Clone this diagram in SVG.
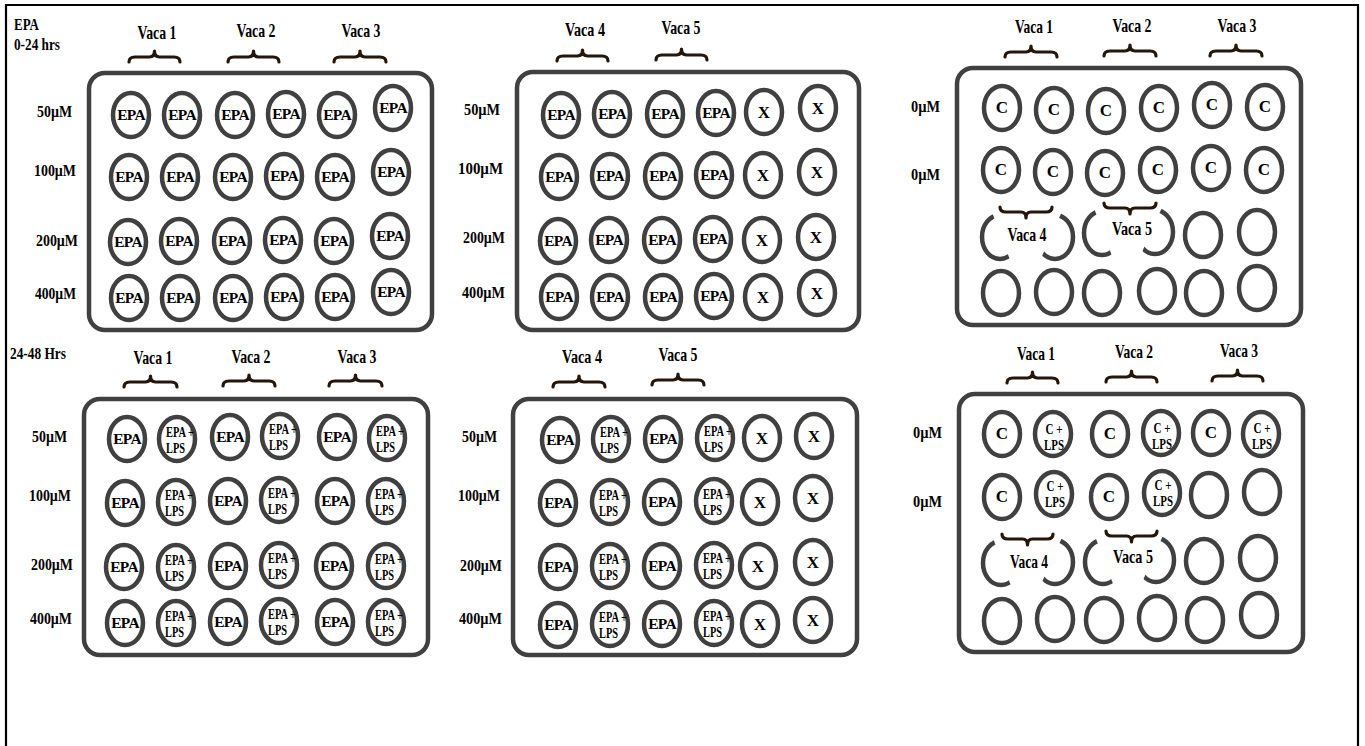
<svg xmlns="http://www.w3.org/2000/svg" width="1365" height="746" viewBox="0 0 1365 746">
<defs>
<style>
.frame{fill:none;stroke:#000;stroke-width:2.2}
.plate{fill:none;stroke:#404040;stroke-width:4.5}
.well{fill:none;stroke:#404040;stroke-width:4.5}
.brace{fill:none;stroke:#24160a;stroke-width:3.2;stroke-linecap:round;stroke-linejoin:round}
.cover{fill:#fff}
.t{font-family:"Liberation Serif","Times New Roman",serif;font-weight:bold;fill:#000}
.lbl{font-size:17.5px}
.vaca{font-size:19px;text-anchor:middle}
.epa{font-size:15.5px;text-anchor:middle;letter-spacing:-0.7px}
.x{font-size:17px;text-anchor:middle}
.c{font-size:17px;text-anchor:middle}
.s{font-size:15px}
.sc{font-size:15px;text-anchor:middle}
</style>
</defs>
<rect width="1365" height="746" fill="#fff"/>
<path class="frame" d="M6 746 V5 H1358 V746"/>
<g id="connectors"/>

<g id="headings">
<text class="t lbl" x="14" y="30" textLength="25" lengthAdjust="spacingAndGlyphs">EPA</text>
<text class="t lbl" x="14" y="50" textLength="46" lengthAdjust="spacingAndGlyphs">0-24 hrs</text>
<text class="t lbl" x="10" y="359" textLength="56" lengthAdjust="spacingAndGlyphs">24-48 Hrs</text>
</g>

<!-- Plate 1 -->
<g id="plate1">
<rect class="plate" x="89" y="73" width="343" height="257" rx="16"/>
<text class="t vaca" x="157" y="39" textLength="39" lengthAdjust="spacingAndGlyphs">Vaca 1</text>
<text class="t vaca" x="256" y="37" textLength="39" lengthAdjust="spacingAndGlyphs">Vaca 2</text>
<text class="t vaca" x="361" y="37" textLength="39" lengthAdjust="spacingAndGlyphs">Vaca 3</text>
<path class="brace" d="M129 62 Q129 57 135 57 H149.5 Q154.5 57 154.5 51 Q154.5 57 159.5 57 H174 Q180 57 180 62"/>
<path class="brace" d="M228 62 Q228 57 234 57 H248.5 Q253.5 57 253.5 51 Q253.5 57 258.5 57 H273 Q279 57 279 62"/>
<path class="brace" d="M334 62 Q334 57 340 57 H355 Q360 57 360 51 Q360 57 365 57 H380 Q386 57 386 62"/>
<text class="t lbl" x="37" y="117" textLength="35" lengthAdjust="spacingAndGlyphs">50µM</text>
<text class="t lbl" x="34" y="176" textLength="42" lengthAdjust="spacingAndGlyphs">100µM</text>
<text class="t lbl" x="36" y="246" textLength="42" lengthAdjust="spacingAndGlyphs">200µM</text>
<text class="t lbl" x="35" y="299" textLength="41" lengthAdjust="spacingAndGlyphs">400µM</text>
<g id="p1-r1c1"><ellipse class="well" cx="131" cy="115" rx="18" ry="22"/><text class="t epa" x="131" y="120">EPA</text></g>
<g id="p1-r1c2"><ellipse class="well" cx="182" cy="115" rx="18" ry="22"/><text class="t epa" x="182" y="120">EPA</text></g>
<g id="p1-r1c3"><ellipse class="well" cx="235" cy="115" rx="18" ry="22"/><text class="t epa" x="235" y="120">EPA</text></g>
<g id="p1-r1c4"><ellipse class="well" cx="286" cy="114" rx="18" ry="22"/><text class="t epa" x="286" y="119">EPA</text></g>
<g id="p1-r1c5"><ellipse class="well" cx="337" cy="115" rx="18" ry="22"/><text class="t epa" x="337" y="120">EPA</text></g>
<g id="p1-r1c6"><ellipse class="well" cx="393" cy="108" rx="18" ry="22"/><text class="t epa" x="393" y="113">EPA</text></g>
<g id="p1-r2c1"><ellipse class="well" cx="129" cy="177" rx="18" ry="22"/><text class="t epa" x="129" y="182">EPA</text></g>
<g id="p1-r2c2"><ellipse class="well" cx="180" cy="177" rx="18" ry="22"/><text class="t epa" x="180" y="182">EPA</text></g>
<g id="p1-r2c3"><ellipse class="well" cx="233" cy="177" rx="18" ry="22"/><text class="t epa" x="233" y="182">EPA</text></g>
<g id="p1-r2c4"><ellipse class="well" cx="284" cy="176" rx="18" ry="22"/><text class="t epa" x="284" y="181">EPA</text></g>
<g id="p1-r2c5"><ellipse class="well" cx="335" cy="177" rx="18" ry="22"/><text class="t epa" x="335" y="182">EPA</text></g>
<g id="p1-r2c6"><ellipse class="well" cx="391" cy="172" rx="18" ry="22"/><text class="t epa" x="391" y="177">EPA</text></g>
<g id="p1-r3c1"><ellipse class="well" cx="128" cy="242" rx="18" ry="22"/><text class="t epa" x="128" y="247">EPA</text></g>
<g id="p1-r3c2"><ellipse class="well" cx="179" cy="241" rx="18" ry="22"/><text class="t epa" x="179" y="246">EPA</text></g>
<g id="p1-r3c3"><ellipse class="well" cx="232" cy="241" rx="18" ry="22"/><text class="t epa" x="232" y="246">EPA</text></g>
<g id="p1-r3c4"><ellipse class="well" cx="283" cy="240" rx="18" ry="22"/><text class="t epa" x="283" y="245">EPA</text></g>
<g id="p1-r3c5"><ellipse class="well" cx="334" cy="241" rx="18" ry="22"/><text class="t epa" x="334" y="246">EPA</text></g>
<g id="p1-r3c6"><ellipse class="well" cx="390" cy="236" rx="18" ry="22"/><text class="t epa" x="390" y="241">EPA</text></g>
<g id="p1-r4c1"><ellipse class="well" cx="129" cy="298" rx="18" ry="22"/><text class="t epa" x="129" y="303">EPA</text></g>
<g id="p1-r4c2"><ellipse class="well" cx="180" cy="298" rx="18" ry="22"/><text class="t epa" x="180" y="303">EPA</text></g>
<g id="p1-r4c3"><ellipse class="well" cx="233" cy="298" rx="18" ry="22"/><text class="t epa" x="233" y="303">EPA</text></g>
<g id="p1-r4c4"><ellipse class="well" cx="284" cy="297" rx="18" ry="22"/><text class="t epa" x="284" y="302">EPA</text></g>
<g id="p1-r4c5"><ellipse class="well" cx="335" cy="297" rx="18" ry="22"/><text class="t epa" x="335" y="302">EPA</text></g>
<g id="p1-r4c6"><ellipse class="well" cx="391" cy="292" rx="18" ry="22"/><text class="t epa" x="391" y="297">EPA</text></g>
</g>

<!-- Plate 2 -->
<g id="plate2">
<rect class="plate" x="517" y="72" width="342" height="258" rx="16"/>
<text class="t vaca" x="585" y="36" textLength="40" lengthAdjust="spacingAndGlyphs">Vaca 4</text>
<text class="t vaca" x="681" y="34" textLength="39" lengthAdjust="spacingAndGlyphs">Vaca 5</text>
<path class="brace" d="M557 61 Q557 56 563 56 H577.5 Q582.5 56 582.5 50 Q582.5 56 587.5 56 H602 Q608 56 608 61"/>
<path class="brace" d="M656 60 Q656 55 662 55 H676.5 Q681.5 55 681.5 49 Q681.5 55 686.5 55 H701 Q707 55 707 60"/>
<text class="t lbl" x="464" y="115" textLength="36" lengthAdjust="spacingAndGlyphs">50µM</text>
<text class="t lbl" x="458" y="174" textLength="45" lengthAdjust="spacingAndGlyphs">100µM</text>
<text class="t lbl" x="463" y="243" textLength="42" lengthAdjust="spacingAndGlyphs">200µM</text>
<text class="t lbl" x="462" y="298" textLength="43" lengthAdjust="spacingAndGlyphs">400µM</text>
<g id="p2-r1c1"><ellipse class="well" cx="561" cy="115" rx="18" ry="22"/><text class="t epa" x="561" y="120">EPA</text></g>
<g id="p2-r1c2"><ellipse class="well" cx="612" cy="114" rx="18" ry="22"/><text class="t epa" x="612" y="119">EPA</text></g>
<g id="p2-r1c3"><ellipse class="well" cx="665" cy="114" rx="18" ry="22"/><text class="t epa" x="665" y="119">EPA</text></g>
<g id="p2-r1c4"><ellipse class="well" cx="716" cy="113" rx="18" ry="22"/><text class="t epa" x="716" y="118">EPA</text></g>
<g id="p2-r1c5"><ellipse class="well" cx="764" cy="112" rx="18" ry="22"/><text class="t x" x="764" y="118">X</text></g>
<g id="p2-r1c6"><ellipse class="well" cx="818" cy="108" rx="18" ry="22"/><text class="t x" x="818" y="114">X</text></g>
<g id="p2-r2c1"><ellipse class="well" cx="559" cy="177" rx="18" ry="22"/><text class="t epa" x="559" y="182">EPA</text></g>
<g id="p2-r2c2"><ellipse class="well" cx="610" cy="176" rx="18" ry="22"/><text class="t epa" x="610" y="181">EPA</text></g>
<g id="p2-r2c3"><ellipse class="well" cx="663" cy="176" rx="18" ry="22"/><text class="t epa" x="663" y="181">EPA</text></g>
<g id="p2-r2c4"><ellipse class="well" cx="714" cy="175" rx="18" ry="22"/><text class="t epa" x="714" y="180">EPA</text></g>
<g id="p2-r2c5"><ellipse class="well" cx="763" cy="175" rx="18" ry="22"/><text class="t x" x="763" y="181">X</text></g>
<g id="p2-r2c6"><ellipse class="well" cx="817" cy="172" rx="18" ry="22"/><text class="t x" x="817" y="178">X</text></g>
<g id="p2-r3c1"><ellipse class="well" cx="558" cy="241" rx="18" ry="22"/><text class="t epa" x="558" y="246">EPA</text></g>
<g id="p2-r3c2"><ellipse class="well" cx="609" cy="240" rx="18" ry="22"/><text class="t epa" x="609" y="245">EPA</text></g>
<g id="p2-r3c3"><ellipse class="well" cx="662" cy="240" rx="18" ry="22"/><text class="t epa" x="662" y="245">EPA</text></g>
<g id="p2-r3c4"><ellipse class="well" cx="713" cy="239" rx="18" ry="22"/><text class="t epa" x="713" y="244">EPA</text></g>
<g id="p2-r3c5"><ellipse class="well" cx="762" cy="240" rx="18" ry="22"/><text class="t x" x="762" y="246">X</text></g>
<g id="p2-r3c6"><ellipse class="well" cx="816" cy="237" rx="18" ry="22"/><text class="t x" x="816" y="243">X</text></g>
<g id="p2-r4c1"><ellipse class="well" cx="559" cy="297" rx="18" ry="22"/><text class="t epa" x="559" y="302">EPA</text></g>
<g id="p2-r4c2"><ellipse class="well" cx="610" cy="297" rx="18" ry="22"/><text class="t epa" x="610" y="302">EPA</text></g>
<g id="p2-r4c3"><ellipse class="well" cx="663" cy="297" rx="18" ry="22"/><text class="t epa" x="663" y="302">EPA</text></g>
<g id="p2-r4c4"><ellipse class="well" cx="714" cy="296" rx="18" ry="22"/><text class="t epa" x="714" y="301">EPA</text></g>
<g id="p2-r4c5"><ellipse class="well" cx="763" cy="297" rx="18" ry="22"/><text class="t x" x="763" y="303">X</text></g>
<g id="p2-r4c6"><ellipse class="well" cx="817" cy="293" rx="18" ry="22"/><text class="t x" x="817" y="299">X</text></g>
</g>

<!-- Plate 3 -->
<g id="plate3">
<rect class="plate" x="957" y="68" width="344" height="257" rx="16"/>
<text class="t vaca" x="1034" y="33" textLength="38" lengthAdjust="spacingAndGlyphs">Vaca 1</text>
<text class="t vaca" x="1132" y="32" textLength="39" lengthAdjust="spacingAndGlyphs">Vaca 2</text>
<text class="t vaca" x="1237" y="32" textLength="39" lengthAdjust="spacingAndGlyphs">Vaca 3</text>
<path class="brace" d="M1005 57 Q1005 52 1011 52 H1026 Q1031 52 1031 46 Q1031 52 1036 52 H1051 Q1057 52 1057 57"/>
<path class="brace" d="M1104 56 Q1104 51 1110 51 H1125 Q1130 51 1130 45 Q1130 51 1135 51 H1150 Q1156 51 1156 56"/>
<path class="brace" d="M1210 56 Q1210 51 1216 51 H1231 Q1236 51 1236 45 Q1236 51 1241 51 H1256 Q1262 51 1262 56"/>
<text class="t lbl" x="911" y="112" textLength="29" lengthAdjust="spacingAndGlyphs">0µM</text>
<text class="t lbl" x="911" y="180" textLength="29" lengthAdjust="spacingAndGlyphs">0µM</text>
<g id="p3-r1c1"><ellipse class="well" cx="1002" cy="108" rx="18" ry="22"/><text class="t c" x="1002" y="113">C</text></g>
<g id="p3-r1c2"><ellipse class="well" cx="1054" cy="110" rx="18" ry="22"/><text class="t c" x="1054" y="115">C</text></g>
<g id="p3-r1c3"><ellipse class="well" cx="1106" cy="111" rx="18" ry="22"/><text class="t c" x="1106" y="116">C</text></g>
<g id="p3-r1c4"><ellipse class="well" cx="1159" cy="108" rx="18" ry="22"/><text class="t c" x="1159" y="113">C</text></g>
<g id="p3-r1c5"><ellipse class="well" cx="1212" cy="105" rx="18" ry="22"/><text class="t c" x="1212" y="110">C</text></g>
<g id="p3-r1c6"><ellipse class="well" cx="1265" cy="107" rx="18" ry="22"/><text class="t c" x="1265" y="112">C</text></g>
<g id="p3-r2c1"><ellipse class="well" cx="1001" cy="170" rx="18" ry="22"/><text class="t c" x="1001" y="175">C</text></g>
<g id="p3-r2c2"><ellipse class="well" cx="1053" cy="172" rx="18" ry="22"/><text class="t c" x="1053" y="177">C</text></g>
<g id="p3-r2c3"><ellipse class="well" cx="1105" cy="173" rx="18" ry="22"/><text class="t c" x="1105" y="178">C</text></g>
<g id="p3-r2c4"><ellipse class="well" cx="1158" cy="170" rx="18" ry="22"/><text class="t c" x="1158" y="175">C</text></g>
<g id="p3-r2c5"><ellipse class="well" cx="1211" cy="168" rx="18" ry="22"/><text class="t c" x="1211" y="173">C</text></g>
<g id="p3-r2c6"><ellipse class="well" cx="1264" cy="170" rx="18" ry="22"/><text class="t c" x="1264" y="175">C</text></g>
<g id="p3-r3c1"><ellipse class="well" cx="1000" cy="237" rx="18" ry="22"/></g>
<g id="p3-r3c2"><ellipse class="well" cx="1055" cy="237" rx="18" ry="22"/></g>
<g id="p3-r3c3"><ellipse class="well" cx="1102" cy="233" rx="18" ry="22"/></g>
<g id="p3-r3c4"><ellipse class="well" cx="1155" cy="232" rx="18" ry="22"/></g>
<g id="p3-r3c5"><ellipse class="well" cx="1203" cy="235" rx="18" ry="22"/></g>
<g id="p3-r3c6"><ellipse class="well" cx="1257" cy="232" rx="18" ry="22"/></g>
<g id="p3-r4c1"><ellipse class="well" cx="1001" cy="293" rx="18" ry="22"/></g>
<g id="p3-r4c2"><ellipse class="well" cx="1054" cy="292" rx="18" ry="22"/></g>
<g id="p3-r4c3"><ellipse class="well" cx="1102" cy="293" rx="18" ry="22"/></g>
<g id="p3-r4c4"><ellipse class="well" cx="1157" cy="291" rx="18" ry="22"/></g>
<g id="p3-r4c5"><ellipse class="well" cx="1204" cy="293" rx="18" ry="22"/></g>
<g id="p3-r4c6"><ellipse class="well" cx="1257" cy="288" rx="18" ry="22"/></g>
<g id="p3-vaca4">
<polygon class="cover" points="990,207 1064,207 1038,265 1012,265"/>
<path class="brace" d="M1000 207 Q1000 212 1006 212 H1021 Q1026 212 1026 218 Q1026 212 1031 212 H1046 Q1052 212 1052 207"/>
<text class="t vaca" x="1027" y="241" textLength="39" lengthAdjust="spacingAndGlyphs">Vaca 4</text>
</g>
<g id="p3-vaca5">
<polygon class="cover" points="1092,203 1164,203 1138,261 1114,261"/>
<path class="brace" d="M1104 203 Q1104 208 1110 208 H1125 Q1130 208 1130 214 Q1130 208 1135 208 H1150 Q1156 208 1156 203"/>
<text class="t vaca" x="1132" y="235" textLength="40" lengthAdjust="spacingAndGlyphs">Vaca 5</text>
</g>
</g>

<!-- Plate 4 -->
<g id="plate4">
<rect class="plate" x="84" y="399" width="344" height="256" rx="16"/>
<text class="t vaca" x="153" y="364" textLength="39" lengthAdjust="spacingAndGlyphs">Vaca 1</text>
<text class="t vaca" x="251" y="363" textLength="39" lengthAdjust="spacingAndGlyphs">Vaca 2</text>
<text class="t vaca" x="357" y="363" textLength="39" lengthAdjust="spacingAndGlyphs">Vaca 3</text>
<path class="brace" d="M124 387 Q124 382 130 382 H145.5 Q150.5 382 150.5 376 Q150.5 382 155.5 382 H171 Q177 382 177 387"/>
<path class="brace" d="M223 386 Q223 381 229 381 H244 Q249 381 249 375 Q249 381 254 381 H269 Q275 381 275 386"/>
<path class="brace" d="M329 386 Q329 381 335 381 H350.5 Q355.5 381 355.5 375 Q355.5 381 360.5 381 H376 Q382 381 382 386"/>
<text class="t lbl" x="32" y="442" textLength="35" lengthAdjust="spacingAndGlyphs">50µM</text>
<text class="t lbl" x="29" y="501" textLength="42" lengthAdjust="spacingAndGlyphs">100µM</text>
<text class="t lbl" x="31" y="570" textLength="42" lengthAdjust="spacingAndGlyphs">200µM</text>
<text class="t lbl" x="30" y="624" textLength="42" lengthAdjust="spacingAndGlyphs">400µM</text>
<g id="p4-r1c1"><ellipse class="well" cx="127" cy="439" rx="18" ry="22"/><text class="t epa" x="127" y="444">EPA</text></g>
<g id="p4-r1c2"><ellipse class="well" cx="177" cy="439" rx="18" ry="22"/><text class="t s" x="166" y="437" textLength="28" lengthAdjust="spacingAndGlyphs">EPA +</text><text class="t s" x="166" y="453" textLength="19" lengthAdjust="spacingAndGlyphs">LPS</text></g>
<g id="p4-r1c3"><ellipse class="well" cx="230" cy="437" rx="18" ry="22"/><text class="t epa" x="230" y="442">EPA</text></g>
<g id="p4-r1c4"><ellipse class="well" cx="280" cy="436" rx="18" ry="22"/><text class="t s" x="269" y="434" textLength="28" lengthAdjust="spacingAndGlyphs">EPA +</text><text class="t s" x="269" y="450" textLength="19" lengthAdjust="spacingAndGlyphs">LPS</text></g>
<g id="p4-r1c5"><ellipse class="well" cx="337" cy="437" rx="18" ry="22"/><text class="t epa" x="337" y="442">EPA</text></g>
<g id="p4-r1c6"><ellipse class="well" cx="387" cy="438" rx="18" ry="22"/><text class="t s" x="376" y="436" textLength="28" lengthAdjust="spacingAndGlyphs">EPA +</text><text class="t s" x="376" y="452" textLength="19" lengthAdjust="spacingAndGlyphs">LPS</text></g>
<g id="p4-r2c1"><ellipse class="well" cx="125" cy="503" rx="18" ry="22"/><text class="t epa" x="125" y="508">EPA</text></g>
<g id="p4-r2c2"><ellipse class="well" cx="176" cy="502" rx="18" ry="22"/><text class="t s" x="165" y="500" textLength="28" lengthAdjust="spacingAndGlyphs">EPA +</text><text class="t s" x="165" y="516" textLength="19" lengthAdjust="spacingAndGlyphs">LPS</text></g>
<g id="p4-r2c3"><ellipse class="well" cx="228" cy="501" rx="18" ry="22"/><text class="t epa" x="228" y="506">EPA</text></g>
<g id="p4-r2c4"><ellipse class="well" cx="279" cy="500" rx="18" ry="22"/><text class="t s" x="268" y="498" textLength="28" lengthAdjust="spacingAndGlyphs">EPA +</text><text class="t s" x="268" y="514" textLength="19" lengthAdjust="spacingAndGlyphs">LPS</text></g>
<g id="p4-r2c5"><ellipse class="well" cx="335" cy="501" rx="18" ry="22"/><text class="t epa" x="335" y="506">EPA</text></g>
<g id="p4-r2c6"><ellipse class="well" cx="386" cy="501" rx="18" ry="22"/><text class="t s" x="375" y="499" textLength="28" lengthAdjust="spacingAndGlyphs">EPA +</text><text class="t s" x="375" y="515" textLength="19" lengthAdjust="spacingAndGlyphs">LPS</text></g>
<g id="p4-r3c1"><ellipse class="well" cx="124" cy="567" rx="18" ry="22"/><text class="t epa" x="124" y="572">EPA</text></g>
<g id="p4-r3c2"><ellipse class="well" cx="176" cy="567" rx="18" ry="22"/><text class="t s" x="165" y="565" textLength="28" lengthAdjust="spacingAndGlyphs">EPA +</text><text class="t s" x="165" y="581" textLength="19" lengthAdjust="spacingAndGlyphs">LPS</text></g>
<g id="p4-r3c3"><ellipse class="well" cx="228" cy="566" rx="18" ry="22"/><text class="t epa" x="228" y="571">EPA</text></g>
<g id="p4-r3c4"><ellipse class="well" cx="279" cy="565" rx="18" ry="22"/><text class="t s" x="268" y="563" textLength="28" lengthAdjust="spacingAndGlyphs">EPA +</text><text class="t s" x="268" y="579" textLength="19" lengthAdjust="spacingAndGlyphs">LPS</text></g>
<g id="p4-r3c5"><ellipse class="well" cx="334" cy="566" rx="18" ry="22"/><text class="t epa" x="334" y="571">EPA</text></g>
<g id="p4-r3c6"><ellipse class="well" cx="386" cy="566" rx="18" ry="22"/><text class="t s" x="375" y="564" textLength="28" lengthAdjust="spacingAndGlyphs">EPA +</text><text class="t s" x="375" y="580" textLength="19" lengthAdjust="spacingAndGlyphs">LPS</text></g>
<g id="p4-r4c1"><ellipse class="well" cx="125" cy="623" rx="18" ry="22"/><text class="t epa" x="125" y="628">EPA</text></g>
<g id="p4-r4c2"><ellipse class="well" cx="176" cy="623" rx="18" ry="22"/><text class="t s" x="165" y="621" textLength="28" lengthAdjust="spacingAndGlyphs">EPA +</text><text class="t s" x="165" y="637" textLength="19" lengthAdjust="spacingAndGlyphs">LPS</text></g>
<g id="p4-r4c3"><ellipse class="well" cx="228" cy="622" rx="18" ry="22"/><text class="t epa" x="228" y="627">EPA</text></g>
<g id="p4-r4c4"><ellipse class="well" cx="279" cy="621" rx="18" ry="22"/><text class="t s" x="268" y="619" textLength="28" lengthAdjust="spacingAndGlyphs">EPA +</text><text class="t s" x="268" y="635" textLength="19" lengthAdjust="spacingAndGlyphs">LPS</text></g>
<g id="p4-r4c5"><ellipse class="well" cx="335" cy="622" rx="18" ry="22"/><text class="t epa" x="335" y="627">EPA</text></g>
<g id="p4-r4c6"><ellipse class="well" cx="386" cy="622" rx="18" ry="22"/><text class="t s" x="375" y="620" textLength="28" lengthAdjust="spacingAndGlyphs">EPA +</text><text class="t s" x="375" y="636" textLength="19" lengthAdjust="spacingAndGlyphs">LPS</text></g>
</g>

<!-- Plate 5 -->
<g id="plate5">
<rect class="plate" x="513" y="399" width="344" height="256" rx="16"/>
<text class="t vaca" x="582" y="363" textLength="40" lengthAdjust="spacingAndGlyphs">Vaca 4</text>
<text class="t vaca" x="678" y="361" textLength="39" lengthAdjust="spacingAndGlyphs">Vaca 5</text>
<path class="brace" d="M553 387 Q553 382 559 382 H574 Q579 382 579 376 Q579 382 584 382 H599 Q605 382 605 387"/>
<path class="brace" d="M652 385 Q652 380 658 380 H673 Q678 380 678 374 Q678 380 683 380 H698 Q704 380 704 385"/>
<text class="t lbl" x="462" y="442" textLength="35" lengthAdjust="spacingAndGlyphs">50µM</text>
<text class="t lbl" x="458" y="501" textLength="42" lengthAdjust="spacingAndGlyphs">100µM</text>
<text class="t lbl" x="460" y="571" textLength="42" lengthAdjust="spacingAndGlyphs">200µM</text>
<text class="t lbl" x="459" y="624" textLength="43" lengthAdjust="spacingAndGlyphs">400µM</text>
<g id="p5-r1c1"><ellipse class="well" cx="560" cy="440" rx="18" ry="22"/><text class="t epa" x="560" y="445">EPA</text></g>
<g id="p5-r1c2"><ellipse class="well" cx="611" cy="439" rx="18" ry="22"/><text class="t s" x="600" y="437" textLength="28" lengthAdjust="spacingAndGlyphs">EPA +</text><text class="t s" x="600" y="453" textLength="19" lengthAdjust="spacingAndGlyphs">LPS</text></g>
<g id="p5-r1c3"><ellipse class="well" cx="663" cy="439" rx="18" ry="22"/><text class="t epa" x="663" y="444">EPA</text></g>
<g id="p5-r1c4"><ellipse class="well" cx="715" cy="438" rx="18" ry="22"/><text class="t s" x="704" y="436" textLength="28" lengthAdjust="spacingAndGlyphs">EPA +</text><text class="t s" x="704" y="452" textLength="19" lengthAdjust="spacingAndGlyphs">LPS</text></g>
<g id="p5-r1c5"><ellipse class="well" cx="762" cy="438" rx="18" ry="22"/><text class="t x" x="762" y="444">X</text></g>
<g id="p5-r1c6"><ellipse class="well" cx="814" cy="436" rx="18" ry="22"/><text class="t x" x="814" y="442">X</text></g>
<g id="p5-r2c1"><ellipse class="well" cx="558" cy="503" rx="18" ry="22"/><text class="t epa" x="558" y="508">EPA</text></g>
<g id="p5-r2c2"><ellipse class="well" cx="610" cy="502" rx="18" ry="22"/><text class="t s" x="599" y="500" textLength="28" lengthAdjust="spacingAndGlyphs">EPA +</text><text class="t s" x="599" y="516" textLength="19" lengthAdjust="spacingAndGlyphs">LPS</text></g>
<g id="p5-r2c3"><ellipse class="well" cx="662" cy="502" rx="18" ry="22"/><text class="t epa" x="662" y="507">EPA</text></g>
<g id="p5-r2c4"><ellipse class="well" cx="714" cy="501" rx="18" ry="22"/><text class="t s" x="703" y="499" textLength="28" lengthAdjust="spacingAndGlyphs">EPA +</text><text class="t s" x="703" y="515" textLength="19" lengthAdjust="spacingAndGlyphs">LPS</text></g>
<g id="p5-r2c5"><ellipse class="well" cx="760" cy="502" rx="18" ry="22"/><text class="t x" x="760" y="508">X</text></g>
<g id="p5-r2c6"><ellipse class="well" cx="813" cy="498" rx="18" ry="22"/><text class="t x" x="813" y="504">X</text></g>
<g id="p5-r3c1"><ellipse class="well" cx="558" cy="567" rx="18" ry="22"/><text class="t epa" x="558" y="572">EPA</text></g>
<g id="p5-r3c2"><ellipse class="well" cx="610" cy="566" rx="18" ry="22"/><text class="t s" x="599" y="564" textLength="28" lengthAdjust="spacingAndGlyphs">EPA +</text><text class="t s" x="599" y="580" textLength="19" lengthAdjust="spacingAndGlyphs">LPS</text></g>
<g id="p5-r3c3"><ellipse class="well" cx="662" cy="566" rx="18" ry="22"/><text class="t epa" x="662" y="571">EPA</text></g>
<g id="p5-r3c4"><ellipse class="well" cx="714" cy="565" rx="18" ry="22"/><text class="t s" x="703" y="563" textLength="28" lengthAdjust="spacingAndGlyphs">EPA +</text><text class="t s" x="703" y="579" textLength="19" lengthAdjust="spacingAndGlyphs">LPS</text></g>
<g id="p5-r3c5"><ellipse class="well" cx="758" cy="566" rx="18" ry="22"/><text class="t x" x="758" y="572">X</text></g>
<g id="p5-r3c6"><ellipse class="well" cx="813" cy="562" rx="18" ry="22"/><text class="t x" x="813" y="568">X</text></g>
<g id="p5-r4c1"><ellipse class="well" cx="558" cy="625" rx="18" ry="22"/><text class="t epa" x="558" y="630">EPA</text></g>
<g id="p5-r4c2"><ellipse class="well" cx="610" cy="624" rx="18" ry="22"/><text class="t s" x="599" y="622" textLength="28" lengthAdjust="spacingAndGlyphs">EPA +</text><text class="t s" x="599" y="638" textLength="19" lengthAdjust="spacingAndGlyphs">LPS</text></g>
<g id="p5-r4c3"><ellipse class="well" cx="662" cy="624" rx="18" ry="22"/><text class="t epa" x="662" y="629">EPA</text></g>
<g id="p5-r4c4"><ellipse class="well" cx="714" cy="623" rx="18" ry="22"/><text class="t s" x="703" y="621" textLength="28" lengthAdjust="spacingAndGlyphs">EPA +</text><text class="t s" x="703" y="637" textLength="19" lengthAdjust="spacingAndGlyphs">LPS</text></g>
<g id="p5-r4c5"><ellipse class="well" cx="760" cy="624" rx="18" ry="22"/><text class="t x" x="760" y="630">X</text></g>
<g id="p5-r4c6"><ellipse class="well" cx="813" cy="620" rx="18" ry="22"/><text class="t x" x="813" y="626">X</text></g>
</g>

<!-- Plate 6 -->
<g id="plate6">
<rect class="plate" x="959" y="394" width="344" height="258" rx="16"/>
<text class="t vaca" x="1036" y="360" textLength="38" lengthAdjust="spacingAndGlyphs">Vaca 1</text>
<text class="t vaca" x="1134" y="358" textLength="38" lengthAdjust="spacingAndGlyphs">Vaca 2</text>
<text class="t vaca" x="1239" y="357" textLength="38" lengthAdjust="spacingAndGlyphs">Vaca 3</text>
<path class="brace" d="M1007 383 Q1007 378 1013 378 H1027.5 Q1032.5 378 1032.5 372 Q1032.5 378 1037.5 378 H1052 Q1058 378 1058 383"/>
<path class="brace" d="M1106 382 Q1106 377 1112 377 H1126.5 Q1131.5 377 1131.5 371 Q1131.5 377 1136.5 377 H1151 Q1157 377 1157 382"/>
<path class="brace" d="M1212 381 Q1212 376 1218 376 H1232.5 Q1237.5 376 1237.5 370 Q1237.5 376 1242.5 376 H1257 Q1263 376 1263 381"/>
<text class="t lbl" x="913" y="438" textLength="29" lengthAdjust="spacingAndGlyphs">0µM</text>
<text class="t lbl" x="913" y="507" textLength="29" lengthAdjust="spacingAndGlyphs">0µM</text>
<g id="p6-r1c1"><ellipse class="well" cx="1002" cy="434" rx="18" ry="22"/><text class="t c" x="1002" y="439">C</text></g>
<g id="p6-r1c2"><ellipse class="well" cx="1053" cy="434" rx="18" ry="22"/><text class="t sc" x="1054" y="434" textLength="17" lengthAdjust="spacingAndGlyphs">C +</text><text class="t sc" x="1054" y="450" textLength="20" lengthAdjust="spacingAndGlyphs">LPS</text></g>
<g id="p6-r1c3"><ellipse class="well" cx="1110" cy="434" rx="18" ry="22"/><text class="t c" x="1110" y="439">C</text></g>
<g id="p6-r1c4"><ellipse class="well" cx="1161" cy="433" rx="18" ry="22"/><text class="t sc" x="1162" y="433" textLength="17" lengthAdjust="spacingAndGlyphs">C +</text><text class="t sc" x="1162" y="449" textLength="20" lengthAdjust="spacingAndGlyphs">LPS</text></g>
<g id="p6-r1c5"><ellipse class="well" cx="1211" cy="433" rx="18" ry="22"/><text class="t c" x="1211" y="438">C</text></g>
<g id="p6-r1c6"><ellipse class="well" cx="1261" cy="434" rx="18" ry="22"/><text class="t sc" x="1262" y="433" textLength="17" lengthAdjust="spacingAndGlyphs">C +</text><text class="t sc" x="1262" y="449" textLength="20" lengthAdjust="spacingAndGlyphs">LPS</text></g>
<g id="p6-r2c1"><ellipse class="well" cx="1002" cy="497" rx="18" ry="22"/><text class="t c" x="1002" y="502">C</text></g>
<g id="p6-r2c2"><ellipse class="well" cx="1054" cy="494" rx="18" ry="22"/><text class="t sc" x="1055" y="491" textLength="17" lengthAdjust="spacingAndGlyphs">C +</text><text class="t sc" x="1055" y="507" textLength="20" lengthAdjust="spacingAndGlyphs">LPS</text></g>
<g id="p6-r2c3"><ellipse class="well" cx="1109" cy="497" rx="18" ry="22"/><text class="t c" x="1109" y="502">C</text></g>
<g id="p6-r2c4"><ellipse class="well" cx="1162" cy="493" rx="18" ry="22"/><text class="t sc" x="1163" y="490" textLength="17" lengthAdjust="spacingAndGlyphs">C +</text><text class="t sc" x="1163" y="506" textLength="20" lengthAdjust="spacingAndGlyphs">LPS</text></g>
<g id="p6-r2c5"><ellipse class="well" cx="1209" cy="495" rx="18" ry="22"/></g>
<g id="p6-r2c6"><ellipse class="well" cx="1262" cy="492" rx="18" ry="22"/></g>
<g id="p6-r3c1"><ellipse class="well" cx="1001" cy="563" rx="18" ry="22"/></g>
<g id="p6-r3c2"><ellipse class="well" cx="1055" cy="562" rx="18" ry="22"/></g>
<g id="p6-r3c3"><ellipse class="well" cx="1103" cy="562" rx="18" ry="22"/></g>
<g id="p6-r3c4"><ellipse class="well" cx="1156" cy="560" rx="18" ry="22"/></g>
<g id="p6-r3c5"><ellipse class="well" cx="1204" cy="561" rx="18" ry="22"/></g>
<g id="p6-r3c6"><ellipse class="well" cx="1258" cy="558" rx="18" ry="22"/></g>
<g id="p6-r4c1"><ellipse class="well" cx="1002" cy="621" rx="18" ry="22"/></g>
<g id="p6-r4c2"><ellipse class="well" cx="1055" cy="619" rx="18" ry="22"/></g>
<g id="p6-r4c3"><ellipse class="well" cx="1104" cy="620" rx="18" ry="22"/></g>
<g id="p6-r4c4"><ellipse class="well" cx="1157" cy="618" rx="18" ry="22"/></g>
<g id="p6-r4c5"><ellipse class="well" cx="1205" cy="620" rx="18" ry="22"/></g>
<g id="p6-r4c6"><ellipse class="well" cx="1259" cy="615" rx="18" ry="22"/></g>
<g id="p6-vaca4">
<polygon class="cover" points="991,533 1064,533 1038,591 1013,591"/>
<path class="brace" d="M1002 534 Q1002 539 1008 539 H1022.5 Q1027.5 539 1027.5 545 Q1027.5 539 1032.5 539 H1047 Q1053 539 1053 534"/>
<text class="t vaca" x="1029" y="568" textLength="38" lengthAdjust="spacingAndGlyphs">Vaca 4</text>
</g>
<g id="p6-vaca5">
<polygon class="cover" points="1093,531 1165,531 1139,589 1115,589"/>
<path class="brace" d="M1106 531 Q1106 536 1112 536 H1126.5 Q1131.5 536 1131.5 542 Q1131.5 536 1136.5 536 H1151 Q1157 536 1157 531"/>
<text class="t vaca" x="1133" y="563" textLength="40" lengthAdjust="spacingAndGlyphs">Vaca 5</text>
</g>
</g>
</svg>
